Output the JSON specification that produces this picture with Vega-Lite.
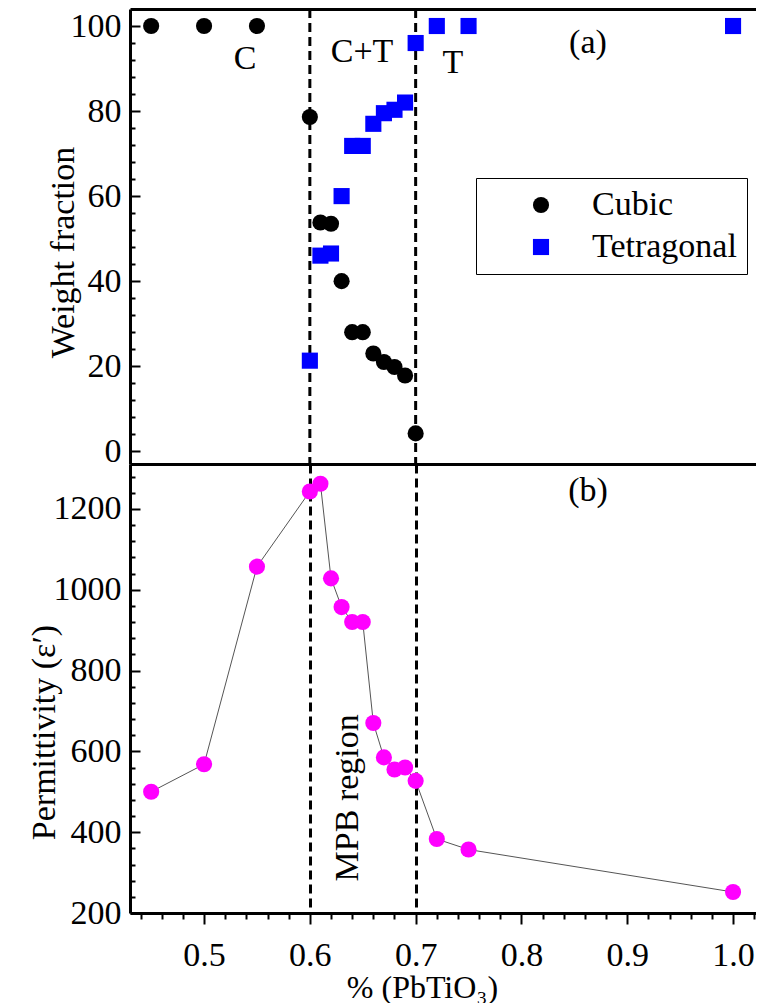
{
  "$schema": "https://vega.github.io/schema/vega-lite/v6.json",
  "background": "white",
  "padding": {"left": 27, "top": 7, "right": 0, "bottom": 0},
  "spacing": 0,
  "bounds": "flush",
  "config": {
    "view": {"stroke": null},
    "style": {
      "guide-label": {"font": "Liberation Serif", "fill": "black"},
      "guide-title": {"font": "Liberation Serif", "fill": "black", "fontWeight": "normal"}
    },
    "axis": {
      "domainColor": "black", "domainWidth": 3, "tickColor": "black", "tickWidth": 2,
      "labelColor": "black", "titleColor": "black",
      "labelFontSize": 34, "titleFontSize": 34, "titleFontWeight": "normal", "grid": false,
      "labelFlush": false, "labelOverlap": false
    }
  },
  "datasets": {
    "phase": [
      {"x": 0.45, "v": 100, "phase": "Cubic"},
      {"x": 0.50, "v": 100, "phase": "Cubic"},
      {"x": 0.55, "v": 100, "phase": "Cubic"},
      {"x": 0.60, "v": 78.6, "phase": "Cubic"},
      {"x": 0.61, "v": 53.8, "phase": "Cubic"},
      {"x": 0.62, "v": 53.5, "phase": "Cubic"},
      {"x": 0.63, "v": 40, "phase": "Cubic"},
      {"x": 0.64, "v": 28, "phase": "Cubic"},
      {"x": 0.65, "v": 28, "phase": "Cubic"},
      {"x": 0.66, "v": 23, "phase": "Cubic"},
      {"x": 0.67, "v": 21, "phase": "Cubic"},
      {"x": 0.68, "v": 19.8, "phase": "Cubic"},
      {"x": 0.69, "v": 17.8, "phase": "Cubic"},
      {"x": 0.70, "v": 4.2, "phase": "Cubic"},
      {"x": 0.60, "v": 21.3, "phase": "Tetragonal"},
      {"x": 0.61, "v": 46, "phase": "Tetragonal"},
      {"x": 0.62, "v": 46.5, "phase": "Tetragonal"},
      {"x": 0.63, "v": 60, "phase": "Tetragonal"},
      {"x": 0.64, "v": 71.8, "phase": "Tetragonal"},
      {"x": 0.65, "v": 71.8, "phase": "Tetragonal"},
      {"x": 0.66, "v": 77, "phase": "Tetragonal"},
      {"x": 0.67, "v": 79.5, "phase": "Tetragonal"},
      {"x": 0.68, "v": 80.3, "phase": "Tetragonal"},
      {"x": 0.69, "v": 82, "phase": "Tetragonal"},
      {"x": 0.70, "v": 96, "phase": "Tetragonal"},
      {"x": 0.72, "v": 100, "phase": "Tetragonal"},
      {"x": 0.75, "v": 100, "phase": "Tetragonal"},
      {"x": 1.00, "v": 100, "phase": "Tetragonal"}
    ],
    "perm": [
      {"x": 0.45, "v": 500},
      {"x": 0.50, "v": 568},
      {"x": 0.55, "v": 1057},
      {"x": 0.60, "v": 1243},
      {"x": 0.61, "v": 1262},
      {"x": 0.62, "v": 1028},
      {"x": 0.63, "v": 957},
      {"x": 0.64, "v": 920},
      {"x": 0.65, "v": 920},
      {"x": 0.66, "v": 670},
      {"x": 0.67, "v": 585},
      {"x": 0.68, "v": 555},
      {"x": 0.69, "v": 560},
      {"x": 0.70, "v": 527},
      {"x": 0.72, "v": 383},
      {"x": 0.75, "v": 357},
      {"x": 1.00, "v": 252}
    ],
    "mpb": [{"x": 0.6}, {"x": 0.7}],
    "labA": [
      {"x": 0.5387, "v": 92.2, "t": "C"},
      {"x": 0.6493, "v": 94, "t": "C+T"},
      {"x": 0.7353, "v": 91.3, "t": "T"},
      {"x": 0.8629, "v": 96, "t": "(a)"}
    ],
    "labB": [{"x": 0.8629, "v": 1244, "t": "(b)"}],
    "labMPB": [{"x": 0.636, "v": 485, "t": "MPB region"}]
  },
  "vconcat": [
    {
      "width": 626,
      "height": 455,
      "layer": [
        {
          "data": {"name": "mpb"},
          "mark": {"type": "rule", "strokeDash": [9, 5], "strokeWidth": 3, "color": "black"},
          "encoding": {
            "x": {"field": "x", "type": "quantitative", "scale": {"domain": [0.43, 1.0217], "nice": false, "zero": false},
                  "axis": {"orient": "top", "labels": false, "ticks": false, "title": null, "minExtent": 0, "maxExtent": 0}}
          }
        },
        {
          "encoding": {
            "x": {"field": "x", "type": "quantitative", "scale": {"domain": [0.43, 1.0217], "nice": false, "zero": false},
                  "axis": {"orient": "bottom", "labels": false, "ticks": false, "title": null, "minExtent": 0, "maxExtent": 0}},
            "y": {"field": "v", "type": "quantitative", "scale": {"domain": [-3, 104], "nice": false, "zero": false},
                  "axis": {
                    "title": "Weight fraction",
                    "values": [0,4,8,12,16,20,24,28,32,36,40,44,48,52,56,60,64,68,72,76,80,84,88,92,96,100],
                    "format": "d",
                    "labelExpr": "datum.value % 20 === 0 ? datum.label : ''",
                    "labelFont": "Liberation Serif", "titleFont": "Liberation Serif",
                    "tickSize": -10,
                    "tickDash": {"condition": {"test": "datum.value % 20 === 0", "value": [12, 0]}, "value": [5, 30]},
                    "labelPadding": 19,
                    "titlePadding": -10,
                    "titleY": 243,
                    "encode": {
                      "labels": {"update": {"font": {"value": "Liberation Serif"}}},
                      "title": {"update": {"font": {"value": "Liberation Serif"}}}
                    }
                  }}
          },
          "layer": [
            {
              "data": {"name": "phase"},
              "mark": {"type": "point", "filled": true, "size": 260, "opacity": 1, "strokeWidth": 0},
              "encoding": {
                "color": {"field": "phase", "type": "nominal",
                          "scale": {"domain": ["Cubic", "Tetragonal"], "range": ["#000000", "#0000ff"]},
                          "legend": {
                            "title": null, "orient": "none", "legendX": 346, "legendY": 169,
                            "padding": 10, "strokeColor": "black", "labelFontSize": 34, "labelFont": "Liberation Serif",
                            "labelColor": "black", "symbolSize": 260, "symbolOffset": 38, "labelOffset": 34, "rowPadding": 8,
                            "symbolStrokeWidth": 0,
                            "encode": {"legend": {"update": {"strokeWidth": {"value": 1.5}}}}
                          }},
                "shape": {"field": "phase", "type": "nominal",
                          "scale": {"domain": ["Cubic", "Tetragonal"], "range": ["circle", "square"]}}
              }
            },
            {
              "data": {"name": "labA"},
              "mark": {"type": "text", "fontSize": 34, "font": "Liberation Serif", "color": "black", "baseline": "middle", "align": "center"},
              "encoding": {"text": {"field": "t"}}
            }
          ]
        }
      ],
      "resolve": {"axis": {"x": "independent"}}
    },
    {
      "width": 626,
      "height": 449,
      "encoding": {
        "x": {"field": "x", "type": "quantitative", "scale": {"domain": [0.43, 1.0217], "nice": false, "zero": false},
              "axis": {
                "orient": "bottom",
                "title": "% (PbTiO₃)",
                "titleFontSize": 32,
                "values": [0.44,0.46,0.48,0.5,0.52,0.54,0.56,0.58,0.6,0.62,0.64,0.66,0.68,0.7,0.72,0.74,0.76,0.78,0.8,0.82,0.84,0.86,0.88,0.9,0.92,0.94,0.96,0.98,1.0,1.02],
                "labelExpr": "abs(datum.value*10 - round(datum.value*10)) < 0.001 ? format(datum.value, '.1f') : ''",
                "labelFont": "Liberation Serif", "titleFont": "Liberation Serif",
                "tickSize": 11,
                "tickDash": {"condition": {"test": "abs(datum.value*10 - round(datum.value*10)) < 0.001", "value": [12, 0]}, "value": [6, 30]},
                "grid": true,
                "gridColor": "black",
                "gridWidth": 3,
                "gridDash": [9, 5],
                "gridOpacity": {"condition": {"test": "datum.value === 0.6 || datum.value === 0.7", "value": 1}, "value": 0},
                "labelPadding": 14,
                "titleX": 292,
                "titlePadding": 0,
                "encode": {
                  "labels": {"update": {"font": {"value": "Liberation Serif"}}},
                  "title": {"update": {"font": {"value": "Liberation Serif"}}}
                }
              }},
        "y": {"field": "v", "type": "quantitative", "scale": {"domain": [200, 1311], "nice": false, "zero": false},
              "axis": {
                "title": "Permittivity (ε′)",
                "values": [200,240,280,320,360,400,440,480,520,560,600,640,680,720,760,800,840,880,920,960,1000,1040,1080,1120,1160,1200,1240,1280],
                "format": "d",
                "labelExpr": "datum.value % 200 === 0 ? datum.label : ''",
                "labelFont": "Liberation Serif", "titleFont": "Liberation Serif",
                "tickSize": -10,
                "tickDash": {"condition": {"test": "datum.value % 200 === 0", "value": [12, 0]}, "value": [5, 30]},
                "labelPadding": 19,
                "titlePadding": -8,
                "titleY": 268,
                "encode": {
                  "labels": {"update": {"font": {"value": "Liberation Serif"}}},
                  "title": {"update": {"font": {"value": "Liberation Serif"}}}
                }
              }}
      },
      "layer": [
        {
          "data": {"name": "perm"},
          "mark": {"type": "line", "color": "#555555", "strokeWidth": 1}
        },
        {
          "data": {"name": "perm"},
          "mark": {"type": "point", "filled": true, "size": 260, "opacity": 1, "color": "#ff00ff", "strokeWidth": 0, "shape": "circle"}
        },
        {
          "data": {"name": "labB"},
          "mark": {"type": "text", "fontSize": 34, "font": "Liberation Serif", "color": "black", "baseline": "middle", "align": "center"},
          "encoding": {"text": {"field": "t"}}
        },
        {
          "data": {"name": "labMPB"},
          "mark": {"type": "text", "fontSize": 34, "font": "Liberation Serif", "color": "black", "baseline": "middle", "align": "center", "angle": 270},
          "encoding": {"text": {"field": "t"}}
        }
      ]
    }
  ]
}
